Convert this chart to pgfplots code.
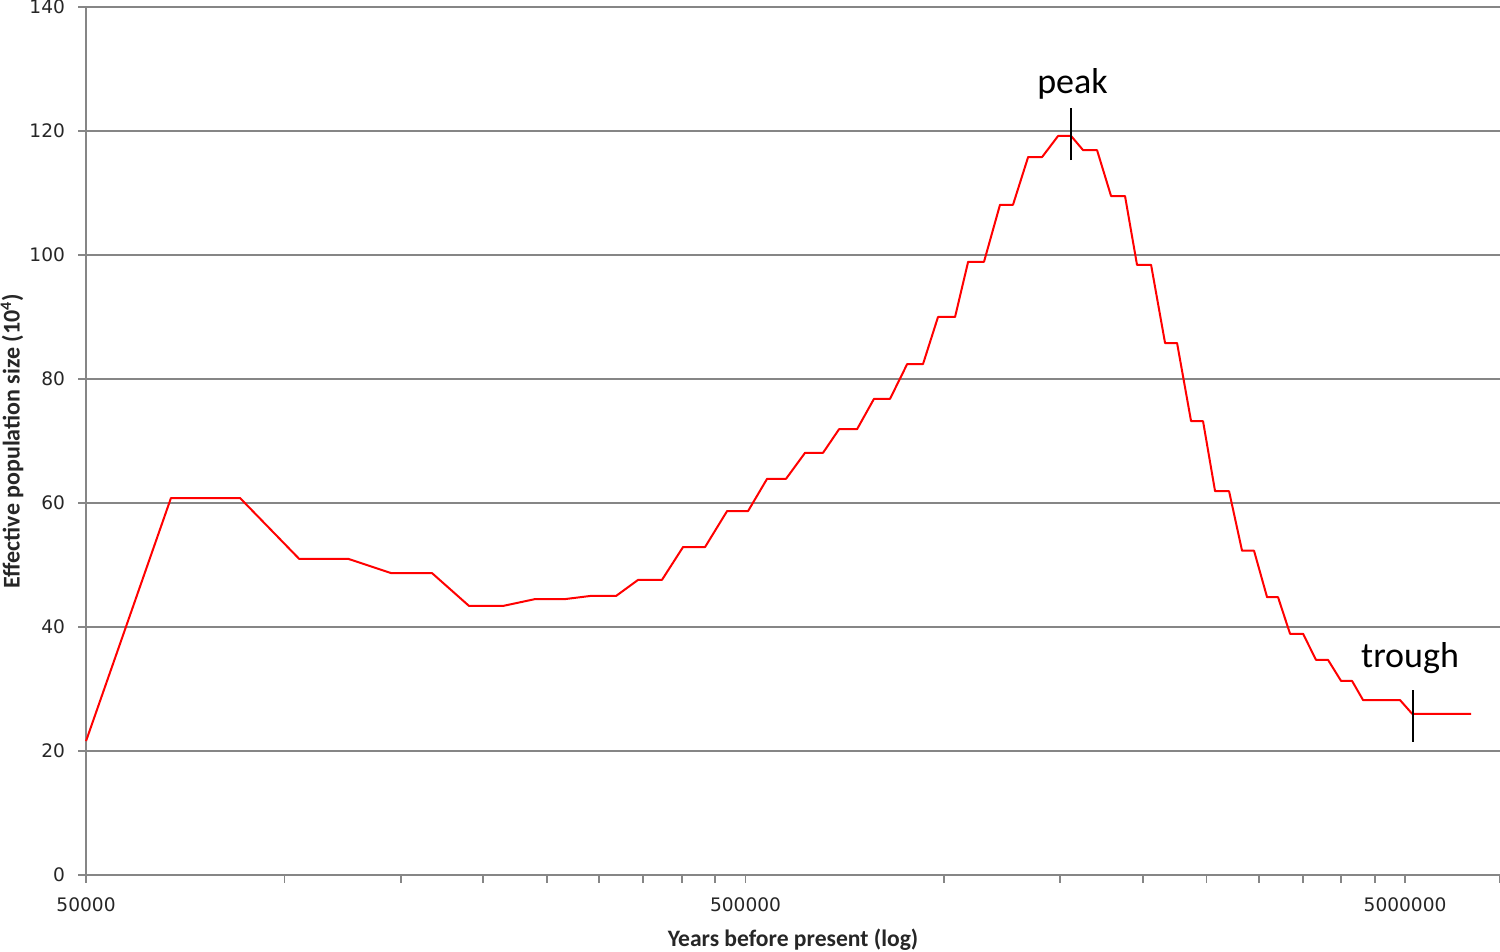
\documentclass[border=0pt]{standalone}
\usepackage{fontspec}
\setmainfont{Carlito}
\newfontfamily\tickfont{DejaVu Sans}
\usepackage{pgfplots}
\pgfplotsset{compat=1.18}
\definecolor{gridgray}{RGB}{134,134,134}
\begin{document}
\begin{tikzpicture}
\begin{axis}[
  at={(0,0)}, anchor=south west,
  scale only axis, width=707pt, height=434pt,
  xmode=log, xmin=50000, xmax=6966000,
  ymin=0, ymax=140, ytick={0,20,...,140},
  xtick={50000,500000,5000000},
  xticklabels={50000,500000,5000000},
  minor xtick={100000,150000,200000,250000,300000,350000,400000,450000,1000000,1500000,2000000,2500000,3000000,3500000,4000000,4500000,6966000},
  axis x line*=bottom, axis y line*=left,
  axis line style={draw=gridgray, line width=1pt, -},
  ymajorgrids, grid style={draw=gridgray, line width=1pt},
  tick align=outside,
  major tick length=4pt, minor tick length=4pt,
  every tick/.style={draw=gridgray, line width=0.9pt},
  /pgf/number format/assume math mode=true,
  ticklabel style={font=\tickfont\fontsize{9.3}{11}\selectfont, text=black!85},
  yticklabel style={xshift=-3pt},
  xticklabel style={yshift=-4pt},
  xlabel={Years before present (log)},
  ylabel={Effective population size (10\textsuperscript{4})},
  every axis x label/.style={at={(axis description cs:0.5,-0.0749)}, anchor=center,
     font=\bfseries\fontsize{11.8}{13}\selectfont, text=black!85},
  every axis y label/.style={at={(axis description cs:-0.0523,0.5)}, anchor=center, rotate=90,
     font=\bfseries\fontsize{12}{13}\selectfont, text=black!85},
  clip=false,
]
\addplot[red, line width=1pt, line join=round] coordinates {
(50000,21.6) (67260,60.8) (85600,60.8) (105200,51.0) (124800,51.0)
(145000,48.7) (167300,48.7) (190400,43.4) (214500,43.4) (239800,44.5)
(266200,44.5) (290500,45.0) (318100,45.0) (343600,47.6) (373500,47.6)
(402000,52.9) (434100,52.9) (468800,58.7) (504400,58.7) (539000,63.9)
(575900,63.9) (615500,68.1) (655400,68.1) (693000,71.9) (738000,71.9)
(783000,76.8) (828000,76.8) (879000,82.4) (929000,82.4) (979000,90.0)
(1039000,90.0) (1087500,98.9) (1149500,98.9) (1215500,108.1) (1272000,108.1)
(1341000,115.8) (1408000,115.8) (1489000,119.2) (1558000,119.2) (1625000,116.9)
(1706000,116.9) (1791500,109.5) (1881000,109.5) (1961500,98.4) (2060000,98.4)
(2163000,85.8) (2255500,85.8) (2368500,73.2) (2469500,73.2) (2575500,61.9)
(2704500,61.9) (2830000,52.3) (2951000,52.3) (3088500,44.8) (3209000,44.8)
(3346500,38.9) (3502000,38.9) (3664000,34.7) (3821000,34.7) (3999000,31.3)
(4155000,31.3) (4318500,28.2) (4913500,28.2) (5125000,26.0) (6295000,26.0)
};
\addplot[black, line width=1pt] coordinates {(1558000,115.3) (1558000,123.7)};
\addplot[black, line width=1pt] coordinates {(5140000,21.5) (5140000,29.8)};
\node[anchor=base, font=\fontsize{18}{21}\selectfont, inner sep=0pt] at (axis cs:1566000,126.1) {peak};
\node[anchor=base, font=\fontsize{18}{21}\selectfont, inner sep=0pt] at (axis cs:5088000,33.5) {trough};
\end{axis}
\pgfresetboundingbox
\path (-43pt,-38.5pt) rectangle (707pt,437.5pt);
\end{tikzpicture}
\end{document}
